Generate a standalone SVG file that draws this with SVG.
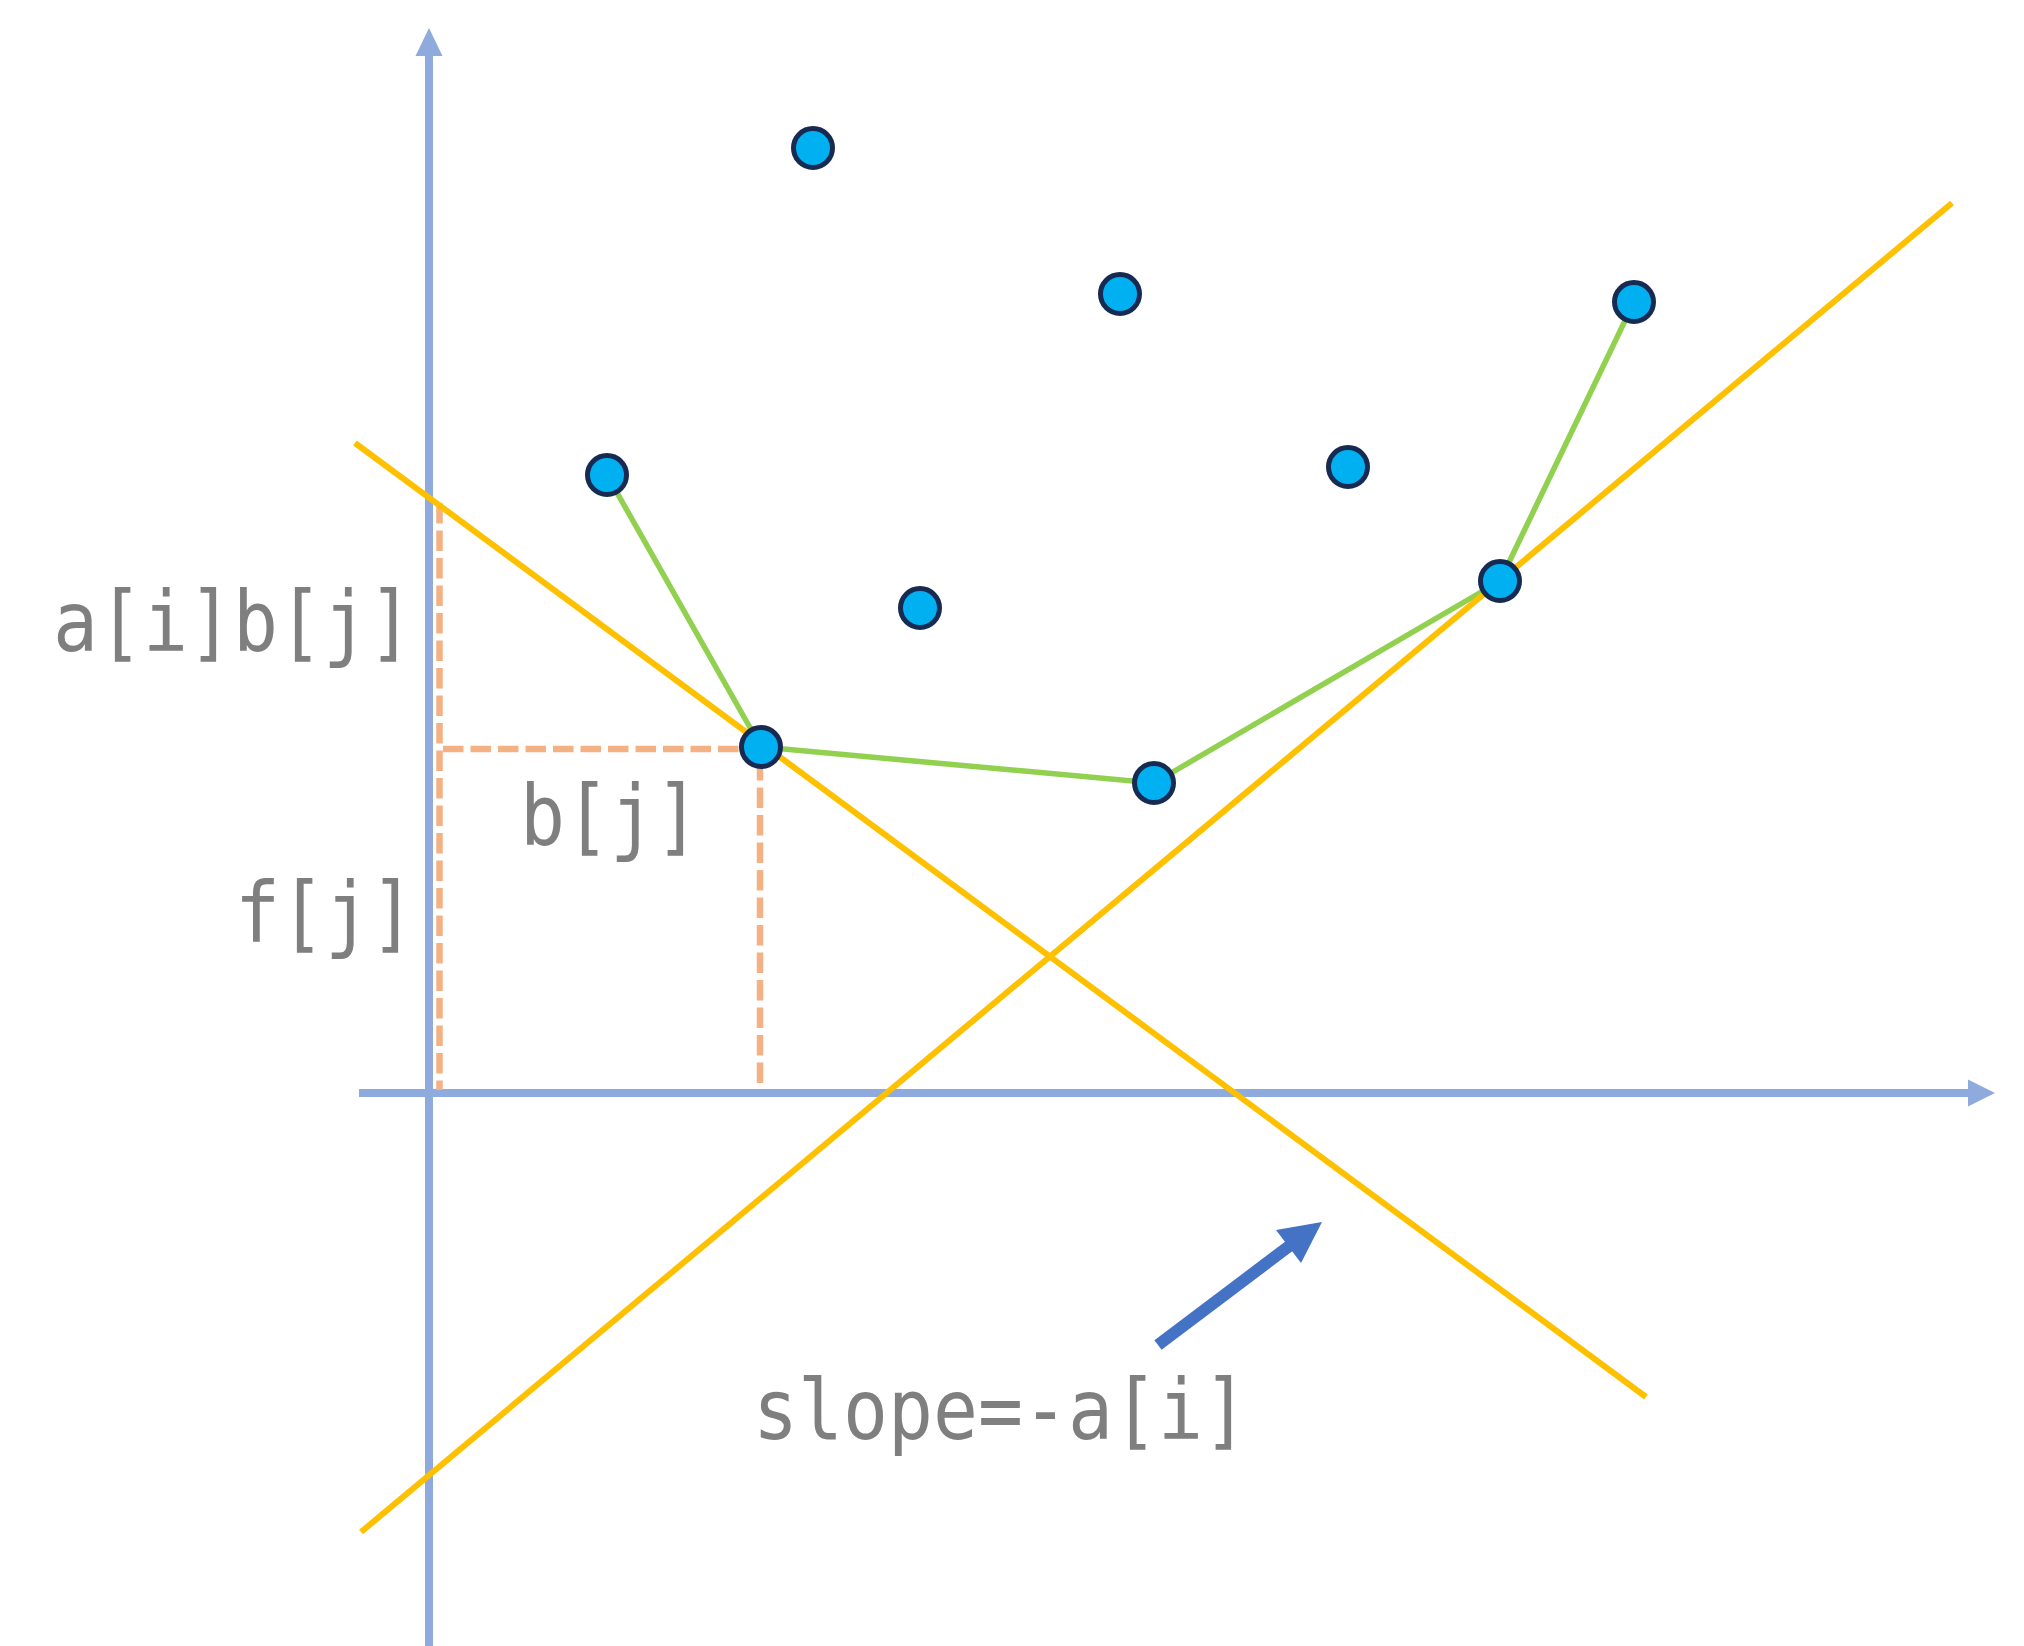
<svg xmlns="http://www.w3.org/2000/svg" width="2024" height="1646" viewBox="0 0 2024 1646">
<style>
.axis{stroke:#8FAADC;stroke-width:8;fill:none}
.axhead{fill:#8FAADC}
.dash{stroke:#F4B183;stroke-width:6.5;stroke-dasharray:20.5 7;fill:none}
.yl{stroke:#FFC000;stroke-width:6;fill:none}
.gl{stroke:#92D050;stroke-width:5.5;fill:none}
.pt{fill:#00B0F0;stroke:#172B52;stroke-width:5}
.lbl{font-family:"DejaVu Sans Mono","Liberation Mono",monospace;fill:#7F7F7F;font-size:84px}
</style>
<rect width="2024" height="1646" fill="#FFFFFF"/>
<g id="axes">
<line class="axis" x1="429" y1="1646" x2="429" y2="54"/>
<polygon class="axhead" points="429,28 415.5,56 442.5,56"/>
<line class="axis" x1="359" y1="1093" x2="1970" y2="1093"/>
<polygon class="axhead" points="1995,1093 1968,1079.5 1968,1106.5"/>
</g>
<g id="connectors">
<polyline class="dash" points="439.5,503 439.5,1090"/>
<polyline class="dash" points="443,749 758,749"/>
<polyline class="dash" points="760,760 760,1088"/>
<polyline class="gl" points="607,475 761,747 1154,783 1500,581 1634,302"/>
<line class="yl" x1="355" y1="443" x2="1646" y2="1397"/>
<line class="yl" x1="361" y1="1532" x2="1952" y2="203"/>
<line x1="1158" y1="1345" x2="1292" y2="1244" stroke="#4472C4" stroke-width="12"/>
<polygon points="1322,1222 1276,1230 1301,1263" fill="#4472C4"/>
</g>
<g id="points">
<circle id="p1" class="pt" cx="813" cy="148" r="19.5"/>
<circle id="p2" class="pt" cx="1120" cy="294" r="19.5"/>
<circle id="p3" class="pt" cx="1634" cy="302" r="19.5"/>
<circle id="p4" class="pt" cx="607" cy="475" r="19.5"/>
<circle id="p5" class="pt" cx="1348" cy="467" r="19.5"/>
<circle id="p6" class="pt" cx="920" cy="608" r="19.5"/>
<circle id="p7" class="pt" cx="761" cy="747" r="19.5"/>
<circle id="p8" class="pt" cx="1154" cy="783" r="19.5"/>
<circle id="p9" class="pt" cx="1500" cy="581" r="19.5"/>
</g>
<g id="labels">
<text class="lbl" transform="translate(53,651) scale(0.89,1)">a[i]b[j]</text>
<text class="lbl" transform="translate(235,942) scale(0.89,1)">f[j]</text>
<text class="lbl" transform="translate(520,845) scale(0.89,1)">b[j]</text>
<text class="lbl" transform="translate(753,1439) scale(0.89,1)">slope=-a[i]</text>
</g>
</svg>
